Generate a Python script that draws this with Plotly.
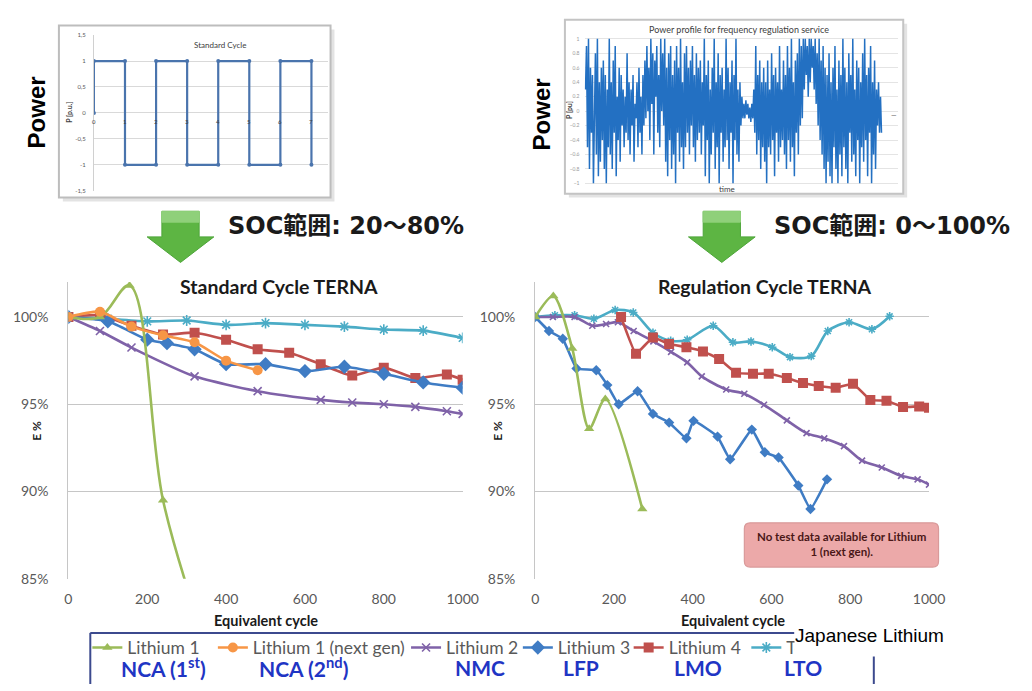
import plotly.graph_objects as go

W, H = 1032, 691


def px(x):
    return x / W


def py(y):
    return 1 - y / H


# ---------------- data ----------------
# Standard cycle profile (inset)
std_t = [0, 0, 1, 1, 2, 2, 3, 3, 4, 4, 5, 5, 6, 6, 7, 7]
std_p = [0, 1, 1, -1, -1, 1, 1, -1, -1, 1, 1, -1, -1, 1, 1, -1]
std_yticks = [1.5, 1, 0.5, 0, -0.5, -1, -1.5]
std_yticktext = ["1,5", "1", "0,5", "0", "-0,5", "-1", "-1,5"]
std_xticks = [0, 1, 2, 3, 4, 5, 6, 7, 8]

# Frequency regulation power profile (inset), p.u.
reg_p = [
    0.3, 0.9, -0.5, 1.0, -0.8, 0.6, -0.3, 0.5, -1.0, 0.2, 0.8, -0.6, 1.0, -0.9, 0.4, -0.7, 0.6, -0.4, 0.7, -0.8,
    0.5, -1.0, 0.3, -0.5, 1.0, -0.6, 0.4, -0.8, 0.7, -0.3, 0.9, -0.9, 0.2, -0.4, 0.6, -0.7, 0.5, -0.2, 0.3, -0.5,
    0.2, -0.3, 0.8, -0.4, 0.4, -0.6, 0.3, -0.2, 0.5, -0.7, 0.1, -0.1, 0.4, -0.5, 0.6, -0.3, 0.2, -0.6, 0.5, -0.2,
    0.7, -0.1, 0.9, 0.0, 0.6, -0.4, 1.0, 0.1, 0.8, -0.6, 0.7, 0.2, 0.9, -0.3, 0.5, -0.5, 1.0, 0.0, 0.8, -0.2,
    1.0, -0.7, 0.6, -0.9, 0.8, -0.4, 0.9, -0.8, 0.5, -0.6, 0.7, -1.0, 0.9, -0.3, 0.6, -0.7, 1.0, -0.5, 0.4, -0.8,
    0.8, -0.5, 0.9, -0.3, 0.6, -0.6, 0.7, -0.2, 0.9, -0.5, 0.5, -0.7, 0.8, -0.4, 0.6, -0.3, 0.7, -0.6, 0.4, -0.2,
    1.0, -0.9, 0.5, -0.4, 0.7, -1.0, 0.3, -0.6, 0.6, -0.3, 1.0, -0.8, 0.4, -0.5, 0.8, -1.0, 0.5, -0.3, 0.6, -0.7,
    0.3, -0.5, 1.0, -0.4, 0.6, -0.8, 0.4, -0.3, 0.7, -1.0, 0.5, -0.4, 1.0, -0.6, 0.3, -0.7, 0.4, -0.2, 0.2, -0.1,
    0.1, -0.1, 0.15, -0.05, 0.1, -0.1, 0.05, -0.15, 0.1, -0.1, 0.3, -0.3, 0.9, -0.6, 0.5, -0.4, 0.7, -0.8, 0.4, -0.5,
    0.6, -0.7, 0.4, -1.0, 0.7, -0.5, 0.3, -0.6, 0.8, -0.4, 0.5, -0.9, 0.6, -0.3, 0.4, -0.7, 0.9, -0.5, 0.3, -0.4,
    0.7, -0.6, 0.5, -0.8, 0.9, -0.4, 0.6, -0.7, 1.0, -0.5, 0.4, -0.9, 0.7, -0.3, 0.8, -0.6, 1.0, -0.2, 0.9, -0.1,
    1.0, 0.3, 1.0, 0.5, 0.9, 0.2, 1.0, 0.4, 1.0, 0.6, 0.9, 0.3, 1.0, 0.1, 0.8, -0.2, 1.0, -0.4, 0.7, -0.6,
    0.9, -0.8, 0.6, -1.0, 0.5, -0.7, 0.8, -0.9, 0.4, -1.0, 0.6, -0.5, 0.9, -0.8, 0.3, -1.0, 0.7, -0.6, 0.5, -0.9,
    1.0, -0.5, 0.6, -0.8, 0.4, -1.0, 0.8, -0.3, 0.5, -0.7, 1.0, -0.6, 0.3, -0.9, 0.7, -0.4, 0.6, -1.0, 0.4, -0.5,
    0.8, -0.7, 1.0, -0.4, 0.5, -0.9, 0.6, -0.3, 0.9, -1.0, 0.4, -0.6, 0.7, -0.8, 0.3, -0.2, 0.4, -0.3, 0.2, -0.3,
]
reg_t = list(range(len(reg_p)))
reg_yticks = [1, 0.8, 0.6, 0.4, 0.2, 0, -0.2, -0.4, -0.6, -0.8, -1]

# Standard Cycle TERNA: energy (%) vs equivalent cycles
std_l1_x = [0, 80, 155, 240, 330]
std_l1_y = [100, 100, 101.8, 89.5, 82.5]
std_l1n_x = [0, 80, 160, 240, 320, 400, 480]
std_l1n_y = [100, 100.3, 99.45, 98.95, 98.55, 97.5, 96.95]
std_l2_x = [0, 80, 160, 320, 480, 640, 720, 800, 880, 960, 1000]
std_l2_y = [100, 99.2, 98.25, 96.6, 95.75, 95.25, 95.1, 95.0, 94.85, 94.6, 94.45]
std_l3_x = [0, 100, 200, 250, 320, 400, 500, 600, 700, 800, 900, 1000]
std_l3_y = [100, 99.75, 98.7, 98.5, 98.15, 97.3, 97.3, 96.9, 97.15, 96.75, 96.25, 95.95]
std_l4_x = [0, 80, 160, 240, 320, 400, 480, 560, 640, 720, 800, 880, 960, 1000]
std_l4_y = [100, 100.1, 99.5, 99.0, 99.1, 98.7, 98.15, 97.95, 97.3, 96.65, 97.1, 96.5, 96.7, 96.4]
std_l5_x = [0, 100, 200, 300, 400, 500, 600, 700, 800, 900, 1000]
std_l5_y = [100, 99.9, 99.75, 99.8, 99.55, 99.65, 99.55, 99.45, 99.28, 99.22, 98.8]

# Regulation Cycle TERNA
reg_l1_x = [0, 46, 94, 137, 178, 272]
reg_l1_y = [100, 101.2, 98.2, 93.6, 95.3, 89.0]
reg_l2_x = [0, 45, 100, 145, 180, 210, 250, 300, 345, 386, 423, 485, 531, 581, 639, 689, 734, 784, 830, 880, 929, 971, 1000]
reg_l2_y = [100, 100.0, 100.0, 99.5, 99.6, 99.7, 99.2, 98.6, 98.0, 97.4, 96.6, 95.85, 95.6, 94.97, 94.08, 93.35,
            93.05, 92.6, 91.77, 91.38, 90.9, 90.7, 90.4]
reg_l3_x = [0, 35, 70, 105, 155, 183, 212, 260, 299, 340, 384, 402, 463, 495, 550, 583, 618, 668, 699, 741]
reg_l3_y = [100, 99.2, 98.75, 97.05, 96.95, 96.1, 95.0, 95.75, 94.45, 93.95, 93.05, 94.05, 93.15, 91.85, 93.55,
            92.25, 91.95, 90.35, 89.0, 90.7]
reg_l4_x = [218, 256, 299, 340, 384, 426, 467, 510, 553, 593, 639, 680, 720, 763, 807, 851, 892, 934, 975, 1000]
reg_l4_y = [100, 97.9, 98.83, 98.45, 98.27, 98.03, 97.6, 96.8, 96.75, 96.75, 96.5, 96.22, 96.05, 95.95, 96.18,
            95.25, 95.2, 94.85, 94.88, 94.8]
reg_l5_x = [0, 50, 100, 149, 203, 249, 299, 344, 386, 452, 502, 548, 602, 647, 701, 743, 797, 855, 900]
reg_l5_y = [100, 100.1, 100.1, 99.9, 100.4, 100.26, 99.1, 98.64, 98.7, 99.5, 98.55, 98.6, 98.27, 97.7, 97.76,
            99.2, 99.7, 99.3, 100.04]

x_ticks = [0, 200, 400, 600, 800, 1000]
e_ticks = [85, 90, 95, 100]
e_ticktext = ["85%", "90%", "95%", "100%"]

series_names = ["Lithium 1", "Lithium 1 (next gen)", "Lithium 2", "Lithium 3", "Lithium 4", "Toshiba"]
chem_labels = ["NCA (1<sup>st</sup>)", "NCA (2<sup>nd</sup>)", "NMC", "LFP", "LMO", "LTO"]

# ---------------- styling ----------------
GREEN, ORANGE, PURPLE = "#9bbb59", "#f79646", "#7f62a8"
BLUE, RED, CYAN = "#3f7cc4", "#c0504d", "#4bacc6"
TXT = "#595959"
GRID = "#c6c6c6"
FONT = "Lato"

fig = go.Figure()


def add_series(x, y, color, symbol, size, xa, ya, name=None, legend=None, smooth=0.6, open_sym=False):
    marker = dict(symbol=symbol, size=size, color=color)
    if open_sym:
        marker["line"] = dict(width=1.6, color=color)
    fig.add_trace(go.Scatter(
        x=x, y=y, mode="lines+markers", xaxis=xa, yaxis=ya,
        line=dict(color=color, width=2.6, shape="spline", smoothing=smooth),
        marker=marker, name=name, showlegend=legend is not None,
        legend=legend if legend else "legend",
    ))


# left main chart (order controls overlap: last on top)
add_series(std_l5_x, std_l5_y, CYAN, "asterisk", 9, "x", "y", series_names[5], "legend6", open_sym=True)
add_series(std_l2_x, std_l2_y, PURPLE, "x-thin", 8, "x", "y", series_names[2], "legend3", open_sym=True)
add_series(std_l4_x, std_l4_y, RED, "square", 10, "x", "y", series_names[4], "legend5")
add_series(std_l3_x, std_l3_y, BLUE, "diamond", 11, "x", "y", series_names[3], "legend4")
add_series(std_l1_x, std_l1_y, GREEN, "triangle-up", 9, "x", "y", series_names[0], "legend", smooth=1.0)
add_series(std_l1n_x, std_l1n_y, ORANGE, "circle", 10, "x", "y", series_names[1], "legend2")

# right main chart
add_series(reg_l5_x, reg_l5_y, CYAN, "asterisk", 7, "x2", "y2", open_sym=True, smooth=0.8)
add_series(reg_l2_x, reg_l2_y, PURPLE, "x-thin", 6, "x2", "y2", open_sym=True, smooth=0.8)
add_series(reg_l4_x, reg_l4_y, RED, "square", 10, "x2", "y2", smooth=0.3)
add_series(reg_l3_x, reg_l3_y, BLUE, "diamond", 8, "x2", "y2", smooth=0.3)
add_series(reg_l1_x, reg_l1_y, GREEN, "triangle-up", 9, "x2", "y2", smooth=0.8)

# insets
fig.add_trace(go.Scatter(x=std_t, y=std_p, mode="lines+markers", xaxis="x3", yaxis="y3",
                         line=dict(color="#4a74ad", width=2.2), marker=dict(size=4, color="#4a74ad"),
                         showlegend=False))
fig.add_trace(go.Scatter(x=reg_t, y=reg_p, mode="lines", xaxis="x4", yaxis="y4",
                         line=dict(color="#2370c2", width=1.5), showlegend=False))

# ---------------- axes ----------------
main_x = dict(range=[0, 1000], tickvals=x_ticks, showgrid=False, zeroline=False, showline=False,
              tickfont=dict(family=FONT, size=14, color=TXT), ticks="", ticklabelstandoff=10)
main_y = dict(range=[85, 102], tickvals=e_ticks, ticktext=e_ticktext, showgrid=True, gridcolor=GRID,
              gridwidth=1.3, zeroline=False, showline=True, linecolor=GRID, linewidth=1.3,
              tickfont=dict(family=FONT, size=14, color=TXT), ticks="", ticklabelstandoff=16,
              domain=[py(585), py(283)])

fig.update_layout(
    xaxis=dict(main_x, domain=[px(65.7), px(467.7)], anchor="y"),
    yaxis=dict(main_y, anchor="x"),
    xaxis2=dict(main_x, domain=[px(541.7), px(943.3)], anchor="y2"),
    yaxis2=dict(main_y, anchor="x2"),
    xaxis3=dict(domain=[px(91.7), px(330)], range=[0, 7.52], anchor="y3", showgrid=False,
                zeroline=False, showticklabels=False, showline=False),
    yaxis3=dict(domain=[py(190), py(31.7)], range=[-1.5, 1.5], anchor="x3", tickvals=std_yticks,
                ticktext=std_yticktext, showgrid=True, gridcolor="#d9d9d9", zeroline=False,
                showline=True, linecolor="#d0d0d0", tickfont=dict(family=FONT, size=6, color=TXT),
                ticks="", ticklabelstandoff=6),
    xaxis4=dict(domain=[px(592), px(912)], range=[-1, 316], anchor="y4", showgrid=False,
                zeroline=False, showticklabels=False, showline=False),
    yaxis4=dict(domain=[py(184), py(34)], range=[-1.02, 1.02], anchor="x4", tickvals=reg_yticks,
                showgrid=True, gridcolor="#e4e4e4", zeroline=False, showline=False,
                tickfont=dict(family=FONT, size=5, color="#9a9a9a"), ticks="", ticklabelstandoff=4),
)

# ---------------- legends (one per series, placed along the bottom box) ----------------
legend_x = [85, 213, 410, 524, 637, 757]
legend_keys = ["legend", "legend2", "legend3", "legend4", "legend5", "legend6"]
for key, lx in zip(legend_keys, legend_x):
    fig.layout[key] = dict(x=px(lx), y=py(655), xanchor="left", yanchor="middle",
                           bgcolor="rgba(0,0,0,0)", borderwidth=0,
                           font=dict(family=FONT, size=17.5, color=TXT), itemwidth=30)

# ---------------- shapes ----------------
shapes = []


def rect(x0, y0, x1, y1, **kw):
    shapes.append(dict(type="rect", xref="paper", yref="paper", x0=px(x0), x1=px(x1),
                       y0=py(y1), y1=py(y0), **kw))


def line(x0, y0, x1, y1, color, width):
    shapes.append(dict(type="line", xref="paper", yref="paper", x0=px(x0), x1=px(x1),
                       y0=py(y0), y1=py(y1), line=dict(color=color, width=width)))


def path(points, fill, lcolor=None):
    d = "M " + " L ".join(f"{px(a):.5f},{py(b):.5f}" for a, b in points) + " Z"
    shapes.append(dict(type="path", xref="paper", yref="paper", path=d, fillcolor=fill,
                       line=dict(color=lcolor or fill, width=1), layer="below"))


# inset frames with soft shadow
rect(60, 26, 337, 201, fillcolor="#e3e3e3", line=dict(width=0), layer="below")
rect(56, 22, 333, 197, fillcolor="white", line=dict(color="#bdbdbd", width=2), layer="below")
rect(576, 20, 921, 197, fillcolor="#e3e3e3", line=dict(width=0), layer="below")
rect(572, 16, 917, 193, fillcolor="white", line=dict(color="#c4c4c4", width=2), layer="below")

# green down arrows
for cx in (180, 732):
    path([(cx - 19, 211), (cx + 19, 211), (cx + 19, 237), (cx + 34, 237), (cx, 263),
          (cx - 34, 237), (cx - 19, 237)], "#5db543", "#4ea53a")
    path([(cx - 19, 211), (cx + 19, 211), (cx + 19, 222), (cx - 19, 222)], "#8fd07a")

# note box in the regulation chart
r = 6
x0b, x1b, y0b, y1b = 755, 953, 528, 573
rp = (f"M {px(x0b + r)},{py(y0b)} L {px(x1b - r)},{py(y0b)} Q {px(x1b)},{py(y0b)} {px(x1b)},{py(y0b + r)} "
      f"L {px(x1b)},{py(y1b - r)} Q {px(x1b)},{py(y1b)} {px(x1b - r)},{py(y1b)} "
      f"L {px(x0b + r)},{py(y1b)} Q {px(x0b)},{py(y1b)} {px(x0b)},{py(y1b - r)} "
      f"L {px(x0b)},{py(y0b + r)} Q {px(x0b)},{py(y0b)} {px(x0b + r)},{py(y0b)} Z")
shapes.append(dict(type="path", xref="paper", yref="paper", path=rp, fillcolor="#eca9a9",
                   line=dict(color="#d99a9a", width=1.2), layer="above"))

# legend frame
NAVY = "#3c4a8e"
line(88, 640, 806, 640, NAVY, 2)
line(88, 640, 88, 692, NAVY, 2)
line(887, 662, 887, 692, NAVY, 2)

fig.update_layout(shapes=shapes)

# ---------------- annotations ----------------
ann = []


def text(x, y, s, size, color="black", bold=False, family=FONT, angle=0, xanchor="center", **kw):
    if bold:
        s = f"<b>{s}</b>"
    ann.append(dict(x=px(x), y=py(y), xref="paper", yref="paper", text=s, showarrow=False,
                    font=dict(family=family, size=size, color=color), textangle=angle,
                    xanchor=xanchor, yanchor="middle", **kw))


SOC_FONT = "DejaVu Sans, Noto Sans CJK JP"
text(33, 110, "Power", 24, bold=True, family="Liberation Sans", angle=-90)
text(548, 112, "Power", 24, bold=True, family="Liberation Sans", angle=-90)
text(226, 226, "SOC範囲: 20～80%", 24, color="#1a1a1a", bold=True, family=SOC_FONT, xanchor="left")
text(783, 226, "SOC範囲: 0～100%", 24, color="#1a1a1a", bold=True, family=SOC_FONT, xanchor="left")

# inset labels
text(220, 42, "Standard Cycle", 8, color="#404040")
text(66, 110, "P [p.u.]", 7, color="#404040", bold=True, angle=-90)
for t in std_xticks:
    ann.append(dict(x=t, y=-0.17, xref="x3", yref="y3", text=str(t), showarrow=False,
                    font=dict(family=FONT, size=6, color="#404040")))
text(750, 26, "Power profile for frequency regulation service", 9, color="#404040")
text(737, 188, "time", 8, color="#404040")
text(576, 108, "P [pu]", 7, color="#404040", bold=True, angle=-90)
text(908, 113, "—", 7, color="#606060")

# main chart titles and axis titles
text(280, 287, "Standard Cycle TERNA", 19.5, color="#1a1a1a", bold=True)
text(776, 287, "Regulation Cycle TERNA", 19.5, color="#1a1a1a", bold=True)
text(267, 627, "Equivalent cycle", 14.5, color="#1a1a1a", bold=True)
text(743, 627, "Equivalent cycle", 14.5, color="#1a1a1a", bold=True)
text(33, 434, "E %", 12, color="#1a1a1a", bold=True, angle=-90)
text(503, 434, "E %", 12, color="#1a1a1a", bold=True, angle=-90)
text(854, 550, "No test data available for Lithium<br>1 (next gen).", 11.5, color="#4a1717", bold=True)

# label box on the right of the legend (drawn before the chemistry labels so they stay on top)
ann.append(dict(x=px(806), y=py(631), xref="paper", yref="paper", text="Japanese Lithium",
                showarrow=False, xanchor="left", yanchor="top", width=222, height=31, align="left",
                valign="top", bgcolor="white", borderpad=0,
                font=dict(family="Liberation Sans", size=19, color="black")))

# chemistry labels under the legend entries
for cx, lab in zip([163, 305, 485, 588, 708, 815], chem_labels):
    text(cx, 675, lab, 21, color="#1f35c4", bold=True)

fig.update_layout(annotations=ann)

fig.update_layout(width=W, height=H, margin=dict(l=0, r=0, t=0, b=0), paper_bgcolor="white",
                  plot_bgcolor="rgba(0,0,0,0)")

fig.write_html("out.html")
